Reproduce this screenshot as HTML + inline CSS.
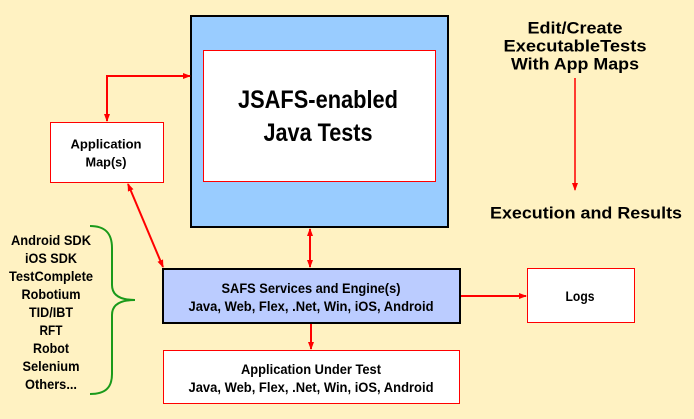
<!DOCTYPE html>
<html><head><meta charset="utf-8"><style>
html,body{margin:0;padding:0;background:#FFF2C2;}
svg{display:block}
text{font-family:"Liberation Sans",sans-serif;font-weight:bold;fill:#000;text-anchor:middle;dominant-baseline:central}
</style></head><body>
<svg width="694" height="419" viewBox="0 0 694 419" xmlns="http://www.w3.org/2000/svg">
<defs>
<marker id="a" markerWidth="8" markerHeight="8" refX="7" refY="4" orient="auto" markerUnits="userSpaceOnUse"><path d="M0,1 L8,4 L0,7 z" fill="#f00"/></marker>
<marker id="s" markerWidth="8" markerHeight="8" refX="1" refY="4" orient="auto" markerUnits="userSpaceOnUse"><path d="M8,1 L0,4 L8,7 z" fill="#f00"/></marker>
</defs>
<rect width="694" height="419" fill="#FFF2C2"/>
<rect x="191" y="16" width="257" height="211" fill="#99CCFF" stroke="#000" stroke-width="2"/>
<rect x="203.5" y="50.5" width="232" height="131" fill="#fff" stroke="#f00" stroke-width="1"/>
<text x="318" y="100" font-size="25" textLength="160" lengthAdjust="spacingAndGlyphs">JSAFS-enabled</text>
<text x="318" y="133" font-size="25" textLength="109" lengthAdjust="spacingAndGlyphs">Java Tests</text>
<rect x="50.5" y="122.5" width="113" height="60" fill="#fff" stroke="#f00"/>
<text x="106" y="144" font-size="13" textLength="71" lengthAdjust="spacingAndGlyphs">Application</text>
<text x="106" y="162" font-size="13" textLength="41" lengthAdjust="spacingAndGlyphs">Map(s)</text>
<rect x="163" y="269" width="297" height="54" fill="#BBCCFF" stroke="#000" stroke-width="2"/>
<text x="311" y="288" font-size="14" textLength="179" lengthAdjust="spacingAndGlyphs">SAFS Services and Engine(s)</text>
<text x="311" y="306" font-size="14" textLength="245" lengthAdjust="spacingAndGlyphs">Java, Web, Flex,  .Net, Win, iOS, Android</text>
<rect x="163.5" y="350.5" width="296" height="53" fill="#fff" stroke="#f00"/>
<text x="311" y="369" font-size="14" textLength="140" lengthAdjust="spacingAndGlyphs">Application Under Test</text>
<text x="311" y="387" font-size="14" textLength="245" lengthAdjust="spacingAndGlyphs">Java, Web, Flex,  .Net, Win, iOS, Android</text>
<rect x="527.5" y="268.5" width="107" height="54" fill="#fff" stroke="#f00"/>
<text x="580" y="296" font-size="14" textLength="29" lengthAdjust="spacingAndGlyphs">Logs</text>
<text x="575" y="28" font-size="17" textLength="95" lengthAdjust="spacingAndGlyphs">Edit/Create</text>
<text x="575" y="46" font-size="17" textLength="143" lengthAdjust="spacingAndGlyphs">ExecutableTests</text>
<text x="575" y="64" font-size="17" textLength="128" lengthAdjust="spacingAndGlyphs">With App Maps</text>
<text x="586" y="213" font-size="17" textLength="192" lengthAdjust="spacingAndGlyphs">Execution and Results</text>
<g font-size="14">
<text x="51" y="240" textLength="80" lengthAdjust="spacingAndGlyphs">Android SDK</text>
<text x="51" y="258" textLength="52" lengthAdjust="spacingAndGlyphs">iOS SDK</text>
<text x="51" y="276" textLength="84" lengthAdjust="spacingAndGlyphs">TestComplete</text>
<text x="51" y="294" textLength="59" lengthAdjust="spacingAndGlyphs">Robotium</text>
<text x="51" y="312" textLength="44" lengthAdjust="spacingAndGlyphs">TID/IBT</text>
<text x="51" y="330" textLength="23" lengthAdjust="spacingAndGlyphs">RFT</text>
<text x="51" y="348" textLength="36" lengthAdjust="spacingAndGlyphs">Robot</text>
<text x="51" y="366" textLength="57" lengthAdjust="spacingAndGlyphs">Selenium</text>
<text x="51" y="384" textLength="52" lengthAdjust="spacingAndGlyphs">Others...</text>
</g>
<path d="M90,226 C105,226 112,233 112,248 L112,285 C112,295 120,300 135,300 C120,300 112,305 112,315 L112,374 C112,388 105,394 90,394" fill="none" stroke="#1a9a1a" stroke-width="2"/>
<g stroke="#f00" stroke-width="2" fill="none">
<path d="M107,121 L107,76 L190,76" marker-start="url(#s)" marker-end="url(#a)"/>
<path d="M128,184 L163,267" marker-start="url(#s)" marker-end="url(#a)"/>
<path d="M310,229 L310,267" marker-start="url(#s)" marker-end="url(#a)"/>
<path d="M311,324 L311,349" marker-end="url(#a)"/>
<path d="M461,296 L526,296" marker-end="url(#a)"/>
<path d="M575,78 L575,190" stroke-width="1.5" marker-end="url(#a)"/>
</g>
</svg>
</body></html>
